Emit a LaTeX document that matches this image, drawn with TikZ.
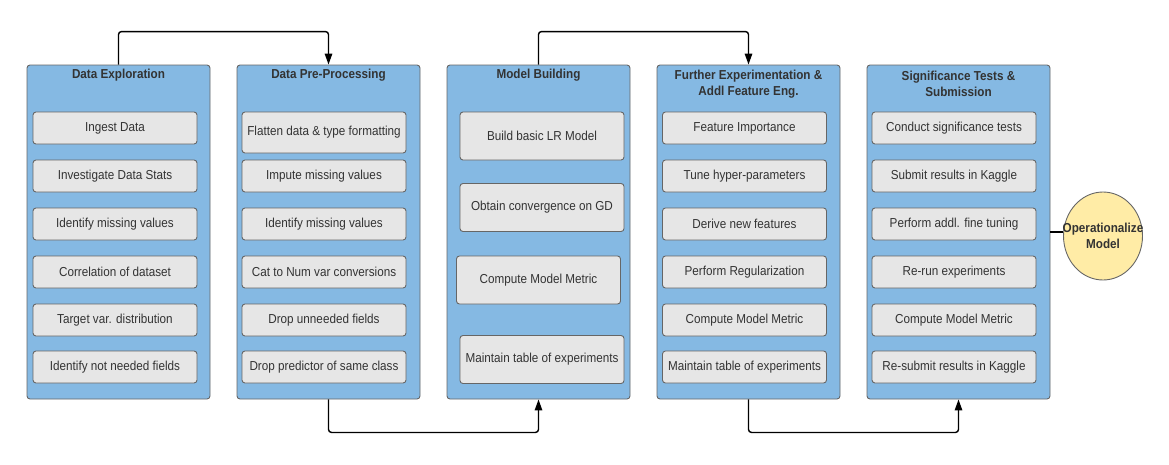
\documentclass[tikz,border=0pt]{standalone}
\usepackage{fontspec}
\setmainfont[FakeStretch=0.9]{Liberation Sans}
\usetikzlibrary{arrows.meta,shapes.geometric}

\definecolor{stageblue}{RGB}{133,185,227}
\definecolor{taskgray}{RGB}{230,230,230}
\definecolor{edgegray}{RGB}{102,102,102}
\definecolor{textgray}{RGB}{51,51,51}
\definecolor{opyellow}{RGB}{255,236,166}

\newcommand{\boxfont}{\fontsize{13}{16.6}\selectfont}

\tikzset{
  stage/.style={draw=edgegray, fill=stageblue, rounded corners=3pt, line width=0.9pt,
    minimum width=183pt, minimum height=334pt, inner sep=0pt},
  task/.style={draw=edgegray, fill=taskgray, rounded corners=3pt, line width=0.9pt,
    minimum width=164pt, minimum height=32pt, inner sep=0pt, text=textgray, font=\boxfont},
  bigtask/.style={task, minimum height=48pt},
  stagetitle/.style={font=\boxfont\bfseries, text=textgray, align=center},
  flow/.style={-{Triangle[length=11pt,width=7.5pt]}, line width=1.4pt, rounded corners=3pt}
}

\begin{document}
\begin{tikzpicture}[x=1pt, y=-1pt]
  \useasboundingbox (0,0) rectangle (1169,464);

  % Stages
  \node[stage] (c1) at (118.5,232) {};
  \node[stage] (c2) at (328.5,232) {};
  \node[stage] (c3) at (538.5,232) {};
  \node[stage] (c4) at (748.5,232) {};
  \node[stage] (c5) at (958.5,232) {};

  % Stage titles
  \node[stagetitle] (t1) at (118.5,75.5) {Data Exploration};
  \node[stagetitle] (t2) at (328.5,75.5) {Data Pre-Processing};
  \node[stagetitle] (t3) at (538.5,75.5) {Model Building};
  \node[stagetitle] (t4) at (748.5,84) {Further Experimentation \&\\Addl Feature Eng.};
  \node[stagetitle] (t5) at (958.5,84) {Significance Tests \&\\Submission};

  % Tasks of each stage
  \foreach \y/\txt [count=\i] in {128/Ingest Data, 176/Investigate Data Stats,
      224/Identify missing values, 272/Correlation of dataset,
      320/Target var. distribution, 367/Identify not needed fields}
    \node[task] (a\i) at (115,\y) {\txt};

  \node[task, minimum height=41pt] (b1) at (324,132.5) {Flatten data \& type formatting};
  \foreach \y/\txt [count=\i from 2] in {176/Impute missing values,
      224/Identify missing values, 272/Cat to Num var conversions,
      320/Drop unneeded fields, 367/Drop predictor of same class}
    \node[task] (b\i) at (324,\y) {\txt};

  \node[bigtask] (m1) at (542,136) {Build basic LR Model};
  \node[bigtask] (m2) at (542,207.5) {Obtain convergence on GD};
  \node[bigtask] (m3) at (538.5,280) {Compute Model Metric};
  \node[bigtask] (m4) at (542,359.5) {Maintain table of experiments};

  \foreach \y/\txt [count=\i] in {128/Feature Importance, 176/Tune hyper-parameters,
      224/Derive new features, 272/Perform Regularization,
      320/Compute Model Metric, 367/Maintain table of experiments}
    \node[task] (f\i) at (744.5,\y) {\txt};

  \foreach \y/\txt [count=\i] in {128/Conduct significance tests, 176/Submit results in Kaggle,
      224/Perform addl. fine tuning, 272/Re-run experiments,
      320/Compute Model Metric, 367/Re-submit results in Kaggle}
    \node[task] (s\i) at (954,\y) {\txt};

  % Final step
  \node[ellipse, draw=edgegray, fill=opyellow, line width=0.9pt, minimum width=79pt,
    minimum height=88pt, inner sep=0pt] (op) at (1103,236) {};
  \node[stagetitle] (opl) at (op.center) {Operationalize\\Model};

  % Flow between stages
  \draw[flow] (c1.north) -- ++(0,-33) -| (c2.north);
  \draw[flow] (c2.south) -- ++(0,33) -| (c3.south);
  \draw[flow] (c3.north) -- ++(0,-33) -| (c4.north);
  \draw[flow] (c4.south) -- ++(0,33) -| (c5.south);
  \draw[line width=1.4pt] (c5.east) -- (c5.east -| op.west);
\end{tikzpicture}
\end{document}
